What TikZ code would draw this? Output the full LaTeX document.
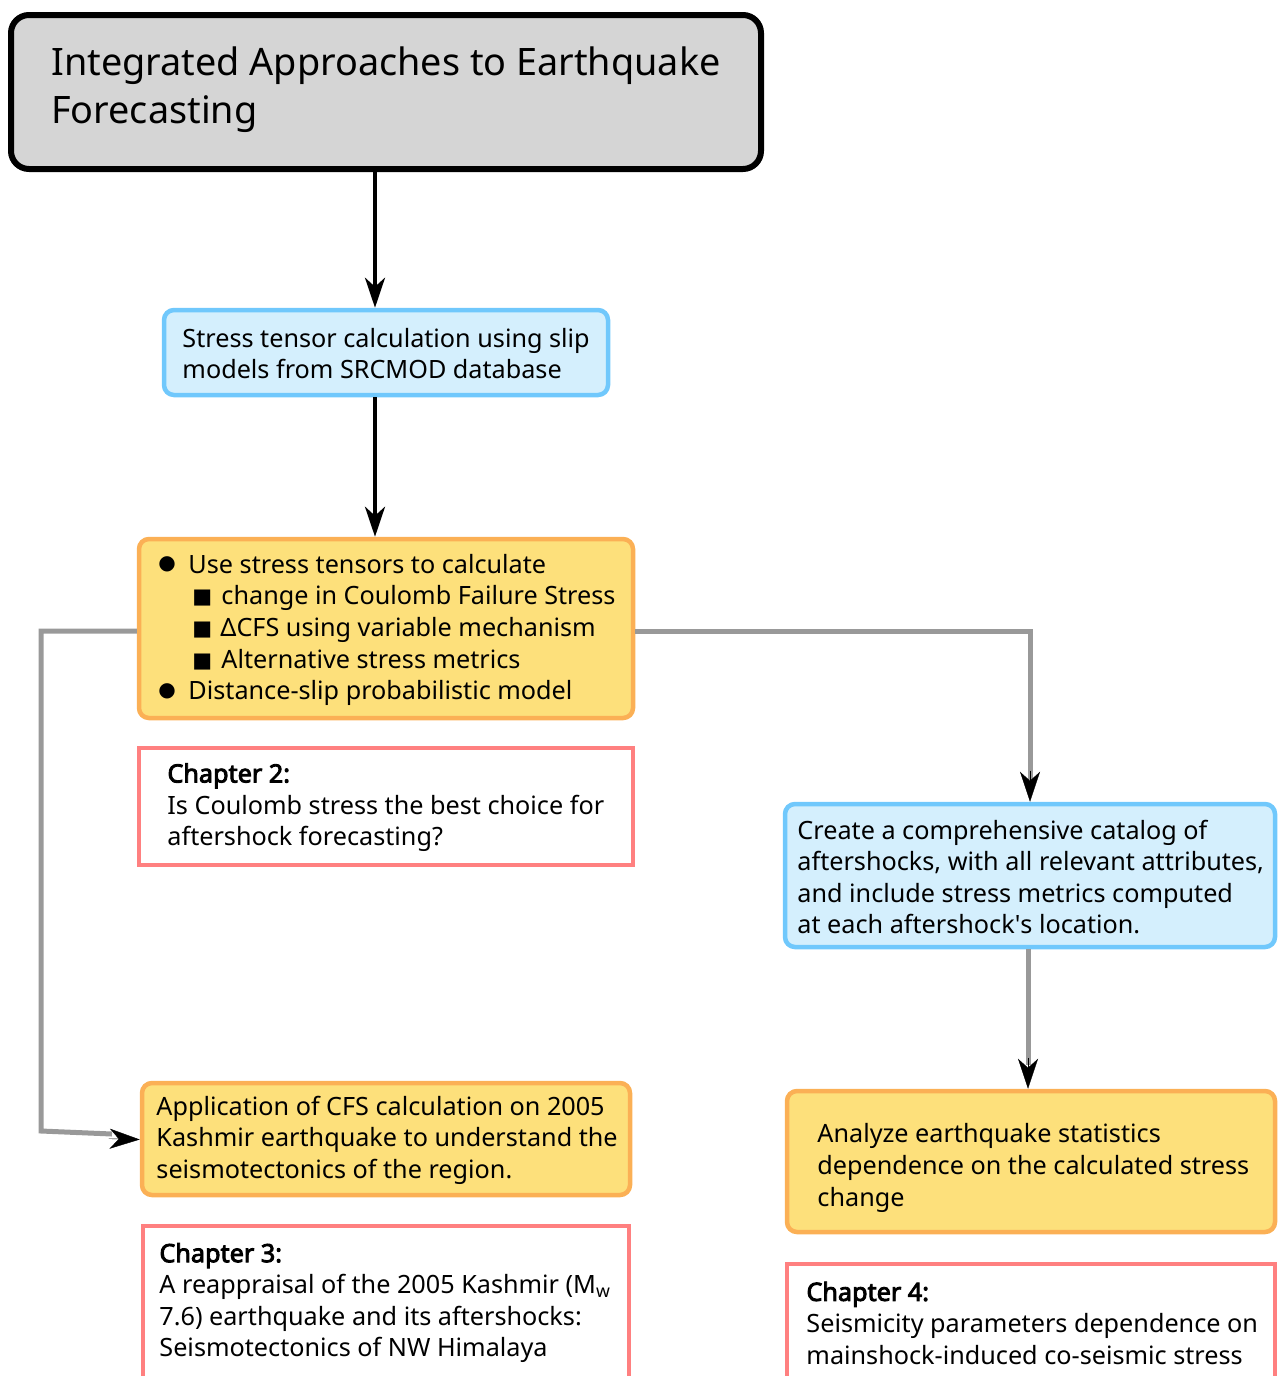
\documentclass[tikz,border=0pt]{standalone}
\usepackage{fontspec}
\setmainfont{Noto Sans}[BoldFont={Noto Sans},BoldFeatures={FakeBold=3.5}]
\newfontfamily\apfont{Noto Sans}
\newfontfamily\symfont{DejaVu Sans}
\usetikzlibrary{arrows.meta}
\definecolor{titlefill}{HTML}{D5D5D5}
\definecolor{bluefill}{HTML}{D4EFFD}
\definecolor{blueline}{HTML}{70C8FC}
\definecolor{yelfill}{HTML}{FDE07B}
\definecolor{yelline}{HTML}{FBB055}
\definecolor{redline}{HTML}{FF8080}
\definecolor{greyline}{HTML}{999999}
\tikzset{
  box/.style={draw, line width=4.5pt, anchor=center, inner sep=0pt},
  titlebox/.style={box, fill=titlefill, draw=black, line width=6pt, rounded corners=18pt},
  bluebox/.style={box, fill=bluefill, draw=blueline, rounded corners=10pt},
  yelbox/.style={box, fill=yelfill, draw=yelline, rounded corners=10pt},
  chapbox/.style={box, fill=white, draw=redline},
  txt/.style={anchor=west, align=left, inner sep=0pt, font=\fontsize{25.2}{31.6}\selectfont},
  titletxt/.style={txt, font=\fontsize{37.8}{48}\selectfont},
  blackarrow/.style={line width=4pt, draw=black, -{Stealth[length=30pt, width=20pt, inset=9pt]}},
  tiponly/.style={line width=0.4pt, draw=black, -{Stealth[length=30pt, width=20pt, inset=9pt]}},
  greyline/.style={line width=5pt, draw=greyline},
}
\newcommand{\bul}{\makebox[30pt][l]{\raisebox{3.5pt}{\symfont\fontsize{20}{20}\selectfont ●}}}
\newcommand{\sqb}{\hspace*{34pt}\makebox[29pt][l]{\raisebox{1pt}{\symfont\fontsize{21}{21}\selectfont ■}}}
\begin{document}
\begin{tikzpicture}[x=1pt,y=-1pt]
\useasboundingbox (0,0) rectangle (1279,1376);
\clip (0,0) rectangle (1279,1376);

% boxes
\node[titlebox, minimum width=750pt, minimum height=154pt] (title) at (386,92) {};
\node[bluebox, minimum width=444pt, minimum height=85pt] (stress) at (386,352.5) {};
\node[yelbox, minimum width=494pt, minimum height=179pt] (list) at (386,628.5) {};
\node[chapbox, minimum width=494pt, minimum height=117pt] (ch2) at (386,806.5) {};
\node[yelbox, minimum width=488pt, minimum height=112pt] (app) at (386,1139) {};
\node[chapbox, minimum width=486pt, minimum height=154pt] (ch3) at (386,1303) {};
\node[bluebox, minimum width=490pt, minimum height=143pt] (cat) at (1030,875.5) {};
\node[yelbox, minimum width=488pt, minimum height=141pt] (anal) at (1031,1161.5) {};
\node[chapbox, minimum width=488pt, minimum height=120pt] (ch4) at (1031,1324) {};

% texts
\node[titletxt] (titleT) at ([xshift=43pt,yshift=2pt]title.west)
  {Integrated Approaches to Earthquake\\Forecasting};
\node[txt] (stressT) at ([xshift=20.5pt,yshift=-1pt]stress.west)
  {Stress tensor calculation using slip\\models from SRCMOD database};
\node[txt] (listT) at ([xshift=21.5pt,yshift=-1.5pt]list.west)
  {\bul Use stress tensors to calculate\\
   \sqb change in Coulomb Failure Stress\\
   \sqb\hspace*{-1pt}ΔCFS using variable mechanism\\
   \sqb Alternative stress metrics\\
   \bul Distance-slip probabilistic model};
\node[txt] (ch2T) at ([xshift=30.5pt,yshift=-1pt]ch2.west)
  {\textbf{Chapter 2:}\\Is Coulomb stress the best choice for\\aftershock forecasting?};
\node[txt] (appT) at ([xshift=16.5pt,yshift=-1pt]app.west)
  {Application of CFS calculation on 2005\\Kashmir earthquake to understand the\\seismotectonics of the region.};
\node[txt] (ch3T) at ([xshift=18.5pt]ch3.west)
  {\textbf{Chapter 3:}\\A reappraisal of the 2005 Kashmir (M\textsubscript{w}\\7.6) earthquake and its aftershocks:\\Seismotectonics of NW Himalaya};
\node[txt] (catT) at ([xshift=14.5pt,yshift=-1.5pt]cat.west)
  {Create a comprehensive catalog of\\aftershocks, with all relevant attributes,\\and include stress metrics computed\\at each aftershock{\apfont'}s location.};
\node[txt] (analT) at ([xshift=32.5pt,yshift=-6.5pt]anal.west)
  {Analyze earthquake statistics\\dependence on the calculated stress\\change};
\node[txt] (ch4T) at ([xshift=21.5pt,yshift=1pt]ch4.west)
  {\textbf{Chapter 4:}\\Seismicity parameters dependence on\\mainshock-induced co-seismic stress};

% connectors
\draw[blackarrow] ([xshift=-11pt]title.south) -- ([xshift=-11pt]stress.north);
\draw[blackarrow] ([xshift=-11pt]stress.south) -- ([xshift=-11pt]list.north);

\coordinate (lc1) at (41,631);
\coordinate (lc2) at (41,1131);
\coordinate (lc3) at (112,1134);
\draw[greyline] ([yshift=-2.5pt]list.west) -- (lc1) -- (lc2) -- (lc3);
\draw[tiponly] ([xshift=-31pt,yshift=0.3pt]app.west) -- ([yshift=-0.5pt]app.west);

\coordinate (rc1) at (1030,631);
\coordinate (rc2) at (1030,780);
\draw[greyline] ([yshift=-2.5pt]list.east) -- (rc1) -- (rc2);
\draw[tiponly] ([yshift=31pt]cat.north) -- (cat.north);

\coordinate (dc1) at (1028,1065);
\draw[greyline] ([xshift=-2pt]cat.south) -- (dc1);
\draw[tiponly] ([xshift=-3pt,yshift=31pt]anal.north) -- ([xshift=-3pt]anal.north);
\end{tikzpicture}
\end{document}
